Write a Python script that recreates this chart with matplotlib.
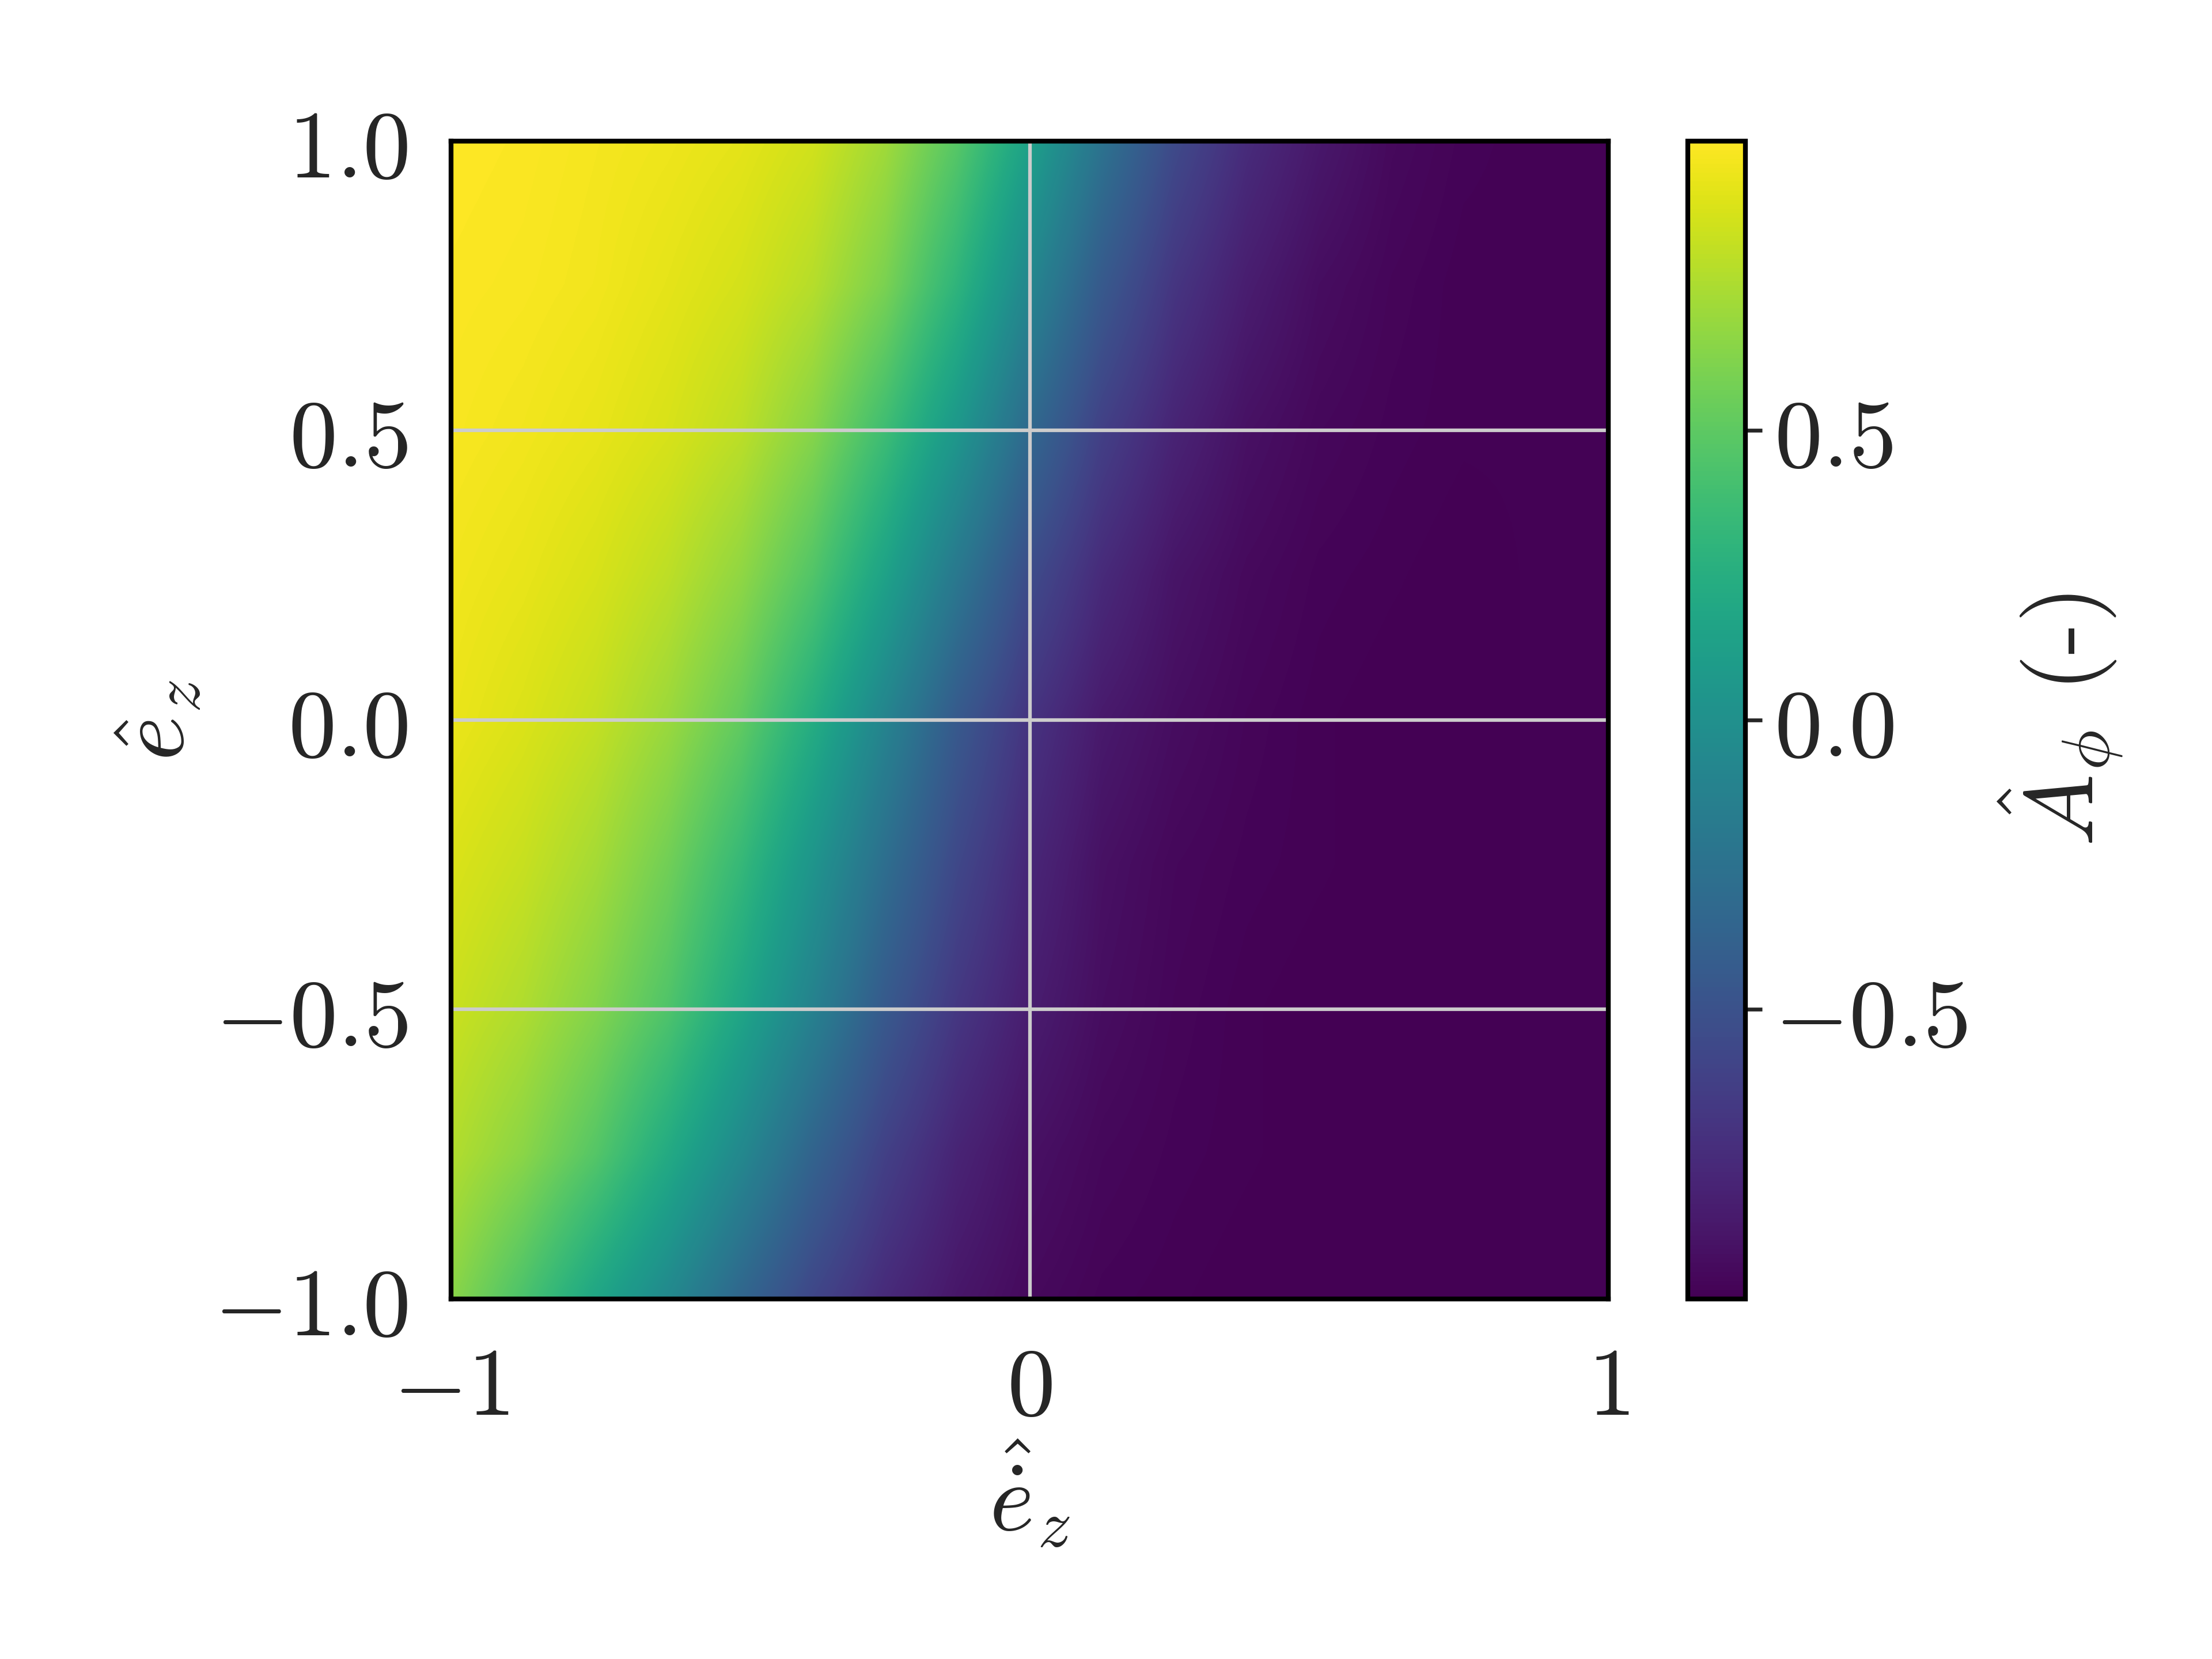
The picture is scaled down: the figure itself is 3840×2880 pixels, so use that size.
import numpy as np
import matplotlib
matplotlib.use("Agg")
import matplotlib.pyplot as plt

# ---- data ----
x_vals = [-1.0, -0.875, -0.75, -0.625, -0.5, -0.375, -0.25, -0.125, 0.0,
          0.125, 0.25, 0.375, 0.5, 0.625, 0.75, 0.875, 1.0]
y_vals = [1.0, 0.75, 0.5, 0.25, 0.0, -0.25, -0.5, -0.75, -1.0]

row_y_p100 = [1.00, 0.99, 0.97, 0.95, 0.92, 0.86, 0.72, 0.48, 0.14, -0.24, -0.55, -0.75, -0.87, -0.95, -0.98, -0.99, -0.99]
row_y_p075 = [0.99, 0.98, 0.96, 0.92, 0.87, 0.78, 0.60, 0.30, -0.08, -0.44, -0.69, -0.84, -0.93, -0.97, -0.99, -0.99, -0.99]
row_y_p050 = [0.98, 0.96, 0.93, 0.88, 0.80, 0.64, 0.38, 0.06, -0.32, -0.62, -0.80, -0.91, -0.96, -0.98, -0.99, -0.99, -0.99]
row_y_p025 = [0.96, 0.93, 0.88, 0.80, 0.67, 0.46, 0.15, -0.20, -0.54, -0.76, -0.89, -0.95, -0.98, -0.99, -1.00, -0.99, -0.99]
row_y_000 = [0.94, 0.89, 0.82, 0.70, 0.52, 0.24, -0.10, -0.44, -0.70, -0.86, -0.93, -0.97, -0.99, -1.00, -1.00, -0.99, -0.99]
row_y_m025 = [0.89, 0.83, 0.73, 0.57, 0.34, 0.04, -0.28, -0.57, -0.78, -0.91, -0.96, -0.98, -0.99, -1.00, -1.00, -0.99, -0.99]
row_y_m050 = [0.84, 0.76, 0.63, 0.45, 0.18, -0.12, -0.44, -0.68, -0.84, -0.93, -0.97, -0.99, -1.00, -1.00, -1.00, -0.99, -0.99]
row_y_m075 = [0.77, 0.65, 0.47, 0.22, -0.06, -0.36, -0.62, -0.80, -0.91, -0.96, -0.98, -0.99, -1.00, -1.00, -1.00, -0.99, -0.99]
row_y_m100 = [0.65, 0.43, 0.18, -0.06, -0.34, -0.58, -0.76, -0.88, -0.95, -0.98, -0.99, -1.00, -1.00, -1.00, -1.00, -0.99, -0.99]

x_ticks = [-1, 0, 1]
x_ticklabels = [r"$-1$", r"$0$", r"$1$"]
y_ticks = [-1.0, -0.5, 0.0, 0.5, 1.0]
y_ticklabels = [r"$-1.0$", r"$-0.5$", r"$0.0$", r"$0.5$", r"$1.0$"]
cb_ticks = [-0.5, 0.0, 0.5]
cb_ticklabels = [r"$-0.5$", r"$0.0$", r"$0.5$"]

# ---- style ----
plt.rcParams["mathtext.fontset"] = "cm"
plt.rcParams["font.family"] = ["DejaVu Serif"]
TXT = "#262626"

Z = np.array([row_y_p100, row_y_p075, row_y_p050, row_y_p025, row_y_000,
              row_y_m025, row_y_m050, row_y_m075, row_y_m100])

fig = plt.figure(figsize=(6.4, 4.8), dpi=600)
ax = fig.add_axes([0.204, 0.217, 0.523, 0.698])
cax = fig.add_axes([0.763, 0.217, 0.026, 0.698])

dx = x_vals[1] - x_vals[0]
dy = y_vals[0] - y_vals[1]
im = ax.imshow(Z, cmap="viridis", origin="upper",
               extent=[x_vals[0] - dx / 2, x_vals[-1] + dx / 2,
                       y_vals[-1] - dy / 2, y_vals[0] + dy / 2],
               interpolation="bilinear", interpolation_stage="data",
               vmin=Z.min(), vmax=Z.max(), aspect="auto", zorder=1)
ax.set_xlim(-1, 1)
ax.set_ylim(-1, 1)

ax.set_xticks(x_ticks)
ax.set_xticklabels(x_ticklabels)
ax.set_yticks(y_ticks)
ax.set_yticklabels(y_ticklabels)
ax.tick_params(axis="both", length=0, labelsize=20, colors=TXT, pad=9)
ax.grid(True, color="#cccccc", linewidth=0.75, zorder=2)
ax.set_axisbelow(False)
for s in ax.spines.values():
    s.set_color("black")
    s.set_linewidth(1.0)
    s.set_zorder(3)

ax.set_xlabel(r"$\hat{\dot{e}}_z$", fontsize=20, color=TXT, labelpad=1)
ax.set_ylabel(r"$\hat{e}_z$", fontsize=20, color=TXT, labelpad=2)

cb = fig.colorbar(im, cax=cax)
cb.set_ticks(cb_ticks)
cb.set_ticklabels(cb_ticklabels)
cb.ax.tick_params(labelsize=20, colors=TXT, length=3.5, width=0.8, pad=2.5)
cb.outline.set_edgecolor("black")
cb.outline.set_linewidth(1.0)
cb.set_label(r"$\hat{A}_\phi$ (-)", fontsize=20, color=TXT, labelpad=6,
             fontfamily="cmr10")

fig.savefig("out.png", dpi=600, facecolor="white")
